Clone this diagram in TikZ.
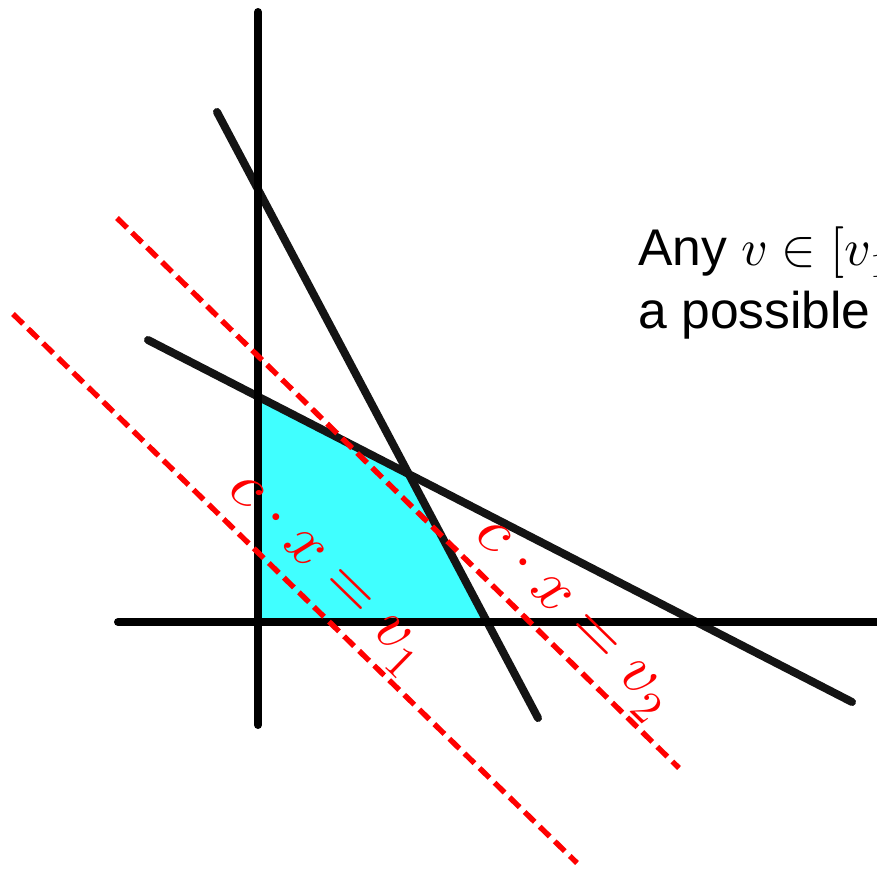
\documentclass[tikz,border=0pt]{standalone}
\usepackage{unicode-math}
\setmainfont{Liberation Sans}
\setmathfont{Latin Modern Math}
\usetikzlibrary{positioning}
\definecolor{feasiblecyan}{RGB}{64,255,255}
\definecolor{isored}{RGB}{255,0,0}
\tikzset{
    axisline/.style   = {line width=4pt, line cap=round, black},
    constraint/.style = {line width=4pt, line cap=round, black!92},
    isoline/.style    = {line width=2.7pt, isored, dash pattern=on 7pt off 3.5pt},
    isolabel/.style   = {sloped, above, inner sep=1.5pt, text=isored,
                         font=\fontsize{32.5}{38}\selectfont},
    region/.style     = {fill=feasiblecyan},
    remark/.style     = {anchor=base west, inner sep=0pt,
                         font=\fontsize{25.8}{31.5}\selectfont}
}

\begin{document}
\begin{tikzpicture}[x=0.5pt, y=-0.5pt]
    \useasboundingbox (0,0) rectangle (877,868);
    \clip (0,0) rectangle (877,868);

    % --- Geraden ---
    \coordinate (yTop)      at (258,12);
    \coordinate (yBot)      at (258,725);
    \coordinate (xLeft)     at (118,622);
    \coordinate (xRight)    at (900,622);
    \coordinate (steepTop)  at (217,112);
    \coordinate (steepBot)  at (538,718);
    \coordinate (flatTop)   at (148,340);
    \coordinate (flatBot)   at (852,702);
    \coordinate (lowStart)  at (13,314);
    \coordinate (lowEnd)    at (577,863);
    \coordinate (highStart) at (117,218);
    \coordinate (highEnd)   at (679,768);

    % --- zulaessiger Bereich ---
    \fill[region] (intersection of yTop--yBot and flatTop--flatBot)
        -- (intersection of steepTop--steepBot and flatTop--flatBot)
        -- (intersection of steepTop--steepBot and xLeft--xRight)
        -- (intersection of yTop--yBot and xLeft--xRight) -- cycle;

    \draw[constraint] (steepTop) -- (steepBot);
    \draw[constraint] (flatTop)  -- (flatBot);
    \draw[axisline]   (yTop)     -- (yBot);
    \draw[axisline]   (xLeft)    -- (xRight);

    % --- Niveaulinien ---
    \draw[isoline] (lowStart)  -- node[isolabel, pos=0.515] (lowLabel)  {$c\cdot x = v_1$} (lowEnd);
    \draw[isoline] (highStart) -- node[isolabel, pos=0.77]  (highLabel) {$c\cdot x = v_2$} (highEnd);

    \node[remark] (anyLine)  at (638,265) {Any $v \in [v_1, v_2]$};
    \node[remark] (possLine) at (638,328) {a possible};
\end{tikzpicture}
\end{document}
